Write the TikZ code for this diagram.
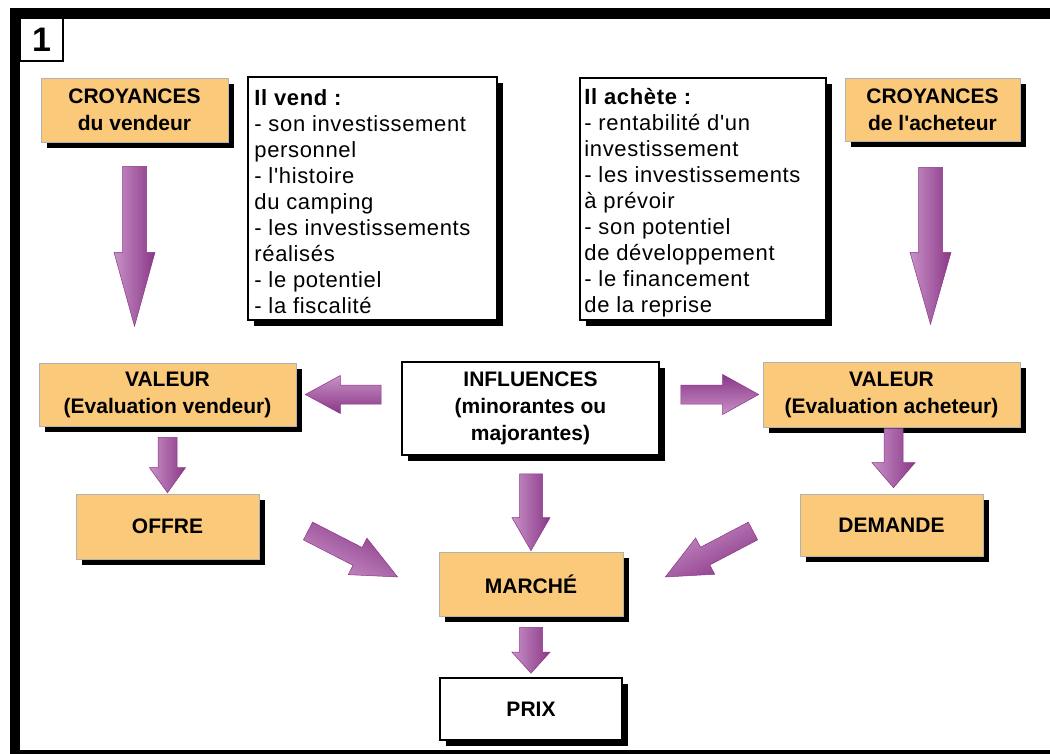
\documentclass[tikz,border=0pt]{standalone}
\usepackage{fontspec}
\setmainfont{Liberation Sans}
\newfontfamily\listfont[LetterSpace=3]{Liberation Sans}
\newfontfamily\boxfont{Liberation Sans}
\usetikzlibrary{calc,shadows}
\definecolor{boxorange}{RGB}{250,201,122}
\definecolor{arrowlight}{RGB}{200,145,200}
\definecolor{arrowdark}{RGB}{138,55,134}
\newcommand\apos{{\char"0027}}
\newcommand\barrow[5]{%
  \path let \p1=($(#2)-(#1)$) in \pgfextra{%
    \pgfmathsetmacro\tmpang{atan2(\y1,\x1)}%
    \pgfmathsetmacro\tmplen{veclen(\x1,\y1)}%
    \global\let\bAng\tmpang \global\let\bLen\tmplen};
  \path[blockarrow, shading angle={\bAng+180}, shift={(#1)}, rotate=\bAng, x=1pt, y=1pt]
    (0,{-#3/2}) -- ({\bLen-#5},{-#3/2}) -- ({\bLen-#5},{-#4/2}) -- (\bLen,0)
    -- ({\bLen-#5},{#4/2}) -- ({\bLen-#5},{#3/2}) -- (0,{#3/2}) -- cycle;
}
\begin{document}
\begin{tikzpicture}[x=1pt,y=-1pt,
  shad/.style={drop shadow={shadow xshift=6pt,shadow yshift=-6pt,fill=black,opacity=1}},
  obox/.style={shad, fill=boxorange, draw=black!30, line width=0.6pt, align=center,
    inner sep=0pt, font=\boxfont\fontsize{21}{27}\selectfont\bfseries},
  wbox/.style={shad, fill=white, draw=black, line width=1.6pt, align=center,
    inner sep=0pt, font=\boxfont\fontsize{21}{27}\selectfont\bfseries},
  listtext/.style={anchor=north west, align=left, inner sep=0pt,
    font=\listfont\fontsize{22}{26}\selectfont},
  blockarrow/.style={left color=arrowlight, right color=arrowdark, draw=arrowdark, line width=0.5pt}
]
\useasboundingbox (0,0) rectangle (1050,754);
\fill[white] (0,0) rectangle (1050,754);
% frame
\fill[black] (10,8) rectangle (1050,19);
\fill[black] (10,8) rectangle (20,754);
\fill[black] (10,750) rectangle (1050,754);
\node[draw=black, line width=1.6pt, fill=white, minimum width=43, minimum height=43,
  inner sep=0pt, font=\boxfont\fontsize{34}{34}\selectfont\bfseries] (num) at (41.5,39.5) {1};

% boxes
\node[obox, minimum width=187, minimum height=64] (cro1) at (134.5,110) {CROYANCES\\du vendeur};
\node[obox, minimum width=175, minimum height=63] (cro2) at (932.5,109.5) {CROYANCES\\de l\apos acheteur};
\node[wbox, minimum width=249, minimum height=243] (vend) at (372.5,198.5) {};
\node[wbox, minimum width=246, minimum height=242] (ach) at (703,199) {};
\node[listtext] (vendtxt) at ($(vend.north west)+(7,13)$)
  {\textbf{Il vend :}\\- son investissement\\personnel\\- l\apos histoire\\du camping\\- les investissements\\réalisés\\- le potentiel\\- la fiscalité};
\node[listtext] (achtxt) at ($(ach.north west)+(5,11)$)
  {\textbf{Il achète :}\\- rentabilité d\apos un\\investissement\\- les investissements\\à prévoir\\- son potentiel\\de développement\\- le financement\\de la reprise};
\node[obox, minimum width=257, minimum height=63] (val1) at (167.5,394.5) {VALEUR\\(Evaluation vendeur)};
\node[wbox, minimum width=257, minimum height=93] (infl) at (530.5,408.5) {INFLUENCES\\(minorantes ou\\majorantes)};
\node[obox, minimum width=257, minimum height=65] (val2) at (891.5,394.5) {VALEUR\\(Evaluation acheteur)};
\node[obox, minimum width=183, minimum height=65] (offre) at (167.5,526.5) {OFFRE};
\node[obox, minimum width=183, minimum height=62] (dem) at (891.5,525) {DEMANDE};
\node[obox, minimum width=184, minimum height=64] (march) at (531,584) {MARCHÉ};
\node[wbox, minimum width=182, minimum height=62] (prix) at (531,709) {PRIX};

% arrow end points
\coordinate (a1s) at ($(cro1.south)+(0,24)$);
\coordinate (a1e) at ($(cro1.south)+(0,184)$);
\coordinate (a2s) at ($(cro2.south)+(-2,26)$);
\coordinate (a2e) at ($(cro2.south)+(-2,183)$);
\coordinate (a3s) at ($(infl.west)+(-20,-14)$);
\coordinate (a3e) at ($(val1.east)+(9,0)$);
\coordinate (a4s) at ($(infl.east)+(21,-14)$);
\coordinate (a4e) at ($(val2.west)+(-4,0)$);
\coordinate (a5s) at ($(val1.south)+(0,11)$);
\coordinate (a5e) at ($(offre.north)+(0,-1)$);
\coordinate (a6s) at ($(val2.south)+(2,1)$);
\coordinate (a6e) at ($(dem.north)+(2,-6)$);
\coordinate (a7s) at ($(infl.south)+(0.5,18)$);
\coordinate (a7e) at ($(march.north)+(0,-1)$);
\coordinate (a8s) at ($(march.south)+(0,11)$);
\coordinate (a8e) at ($(prix.north)+(0,-4)$);
\coordinate (a9s) at (308,531);
\coordinate (a9e) at ($(march.west)+(-41,-7)$);
\coordinate (a10s) at (753,531);
\coordinate (a10e) at ($(march.east)+(42,-7)$);

% arrows
\barrow{a1s}{a1e}{24}{41}{74}
\barrow{a2s}{a2e}{24}{41}{72}
\barrow{a3s}{a3e}{19}{38}{35}
\barrow{a4s}{a4e}{19}{40}{36}
\barrow{a5s}{a5e}{19}{36}{25}
\barrow{a6s}{a6e}{19}{43}{25}
\barrow{a7s}{a7e}{23}{38}{33}
\barrow{a8s}{a8e}{23}{38}{21}
\barrow{a9s}{a9e}{20}{41}{45}
\barrow{a10s}{a10e}{20}{41}{45}
\end{tikzpicture}
\end{document}
